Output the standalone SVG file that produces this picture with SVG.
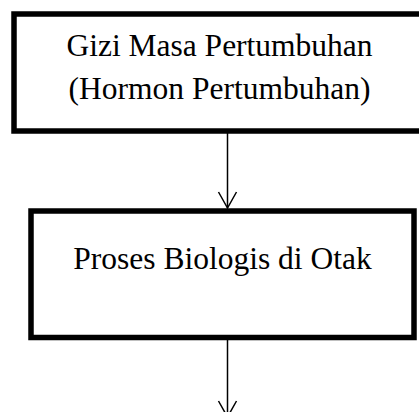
<svg xmlns="http://www.w3.org/2000/svg" width="419" height="412" viewBox="0 0 419 412">
<style>
.box{fill:#fff;stroke:#000;stroke-width:5.5;stroke-linejoin:miter}
.lbl{font-family:"Liberation Serif","Times New Roman",serif;font-size:31.5px;fill:#000;text-anchor:middle}
.conn{stroke:#000;stroke-width:1.5;fill:none}
.head{stroke:#000;stroke-width:1.5;fill:none}
</style>
<rect width="419" height="412" fill="#fff"/>
<g id="node-gizi">
<rect class="box" x="14" y="14" width="420" height="117"/>
<text class="lbl" x="219.5" y="56">Gizi Masa Pertumbuhan</text>
<text class="lbl" x="219.5" y="99">(Hormon Pertumbuhan)</text>
</g>
<g id="node-proses">
<rect class="box" x="31" y="211" width="383" height="126.5"/>
<text class="lbl" x="222.5" y="269">Proses Biologis di Otak</text>
</g>
<g id="connectors">
<line class="conn" x1="227.5" y1="133" x2="227.5" y2="208"/>
<polyline class="head" points="218.5,192 227.5,208 236.5,192"/>
<line class="conn" x1="227.5" y1="340" x2="227.5" y2="416"/>
<polyline class="head" points="218.5,401 227.5,417 236.5,401"/>
</g>
</svg>
